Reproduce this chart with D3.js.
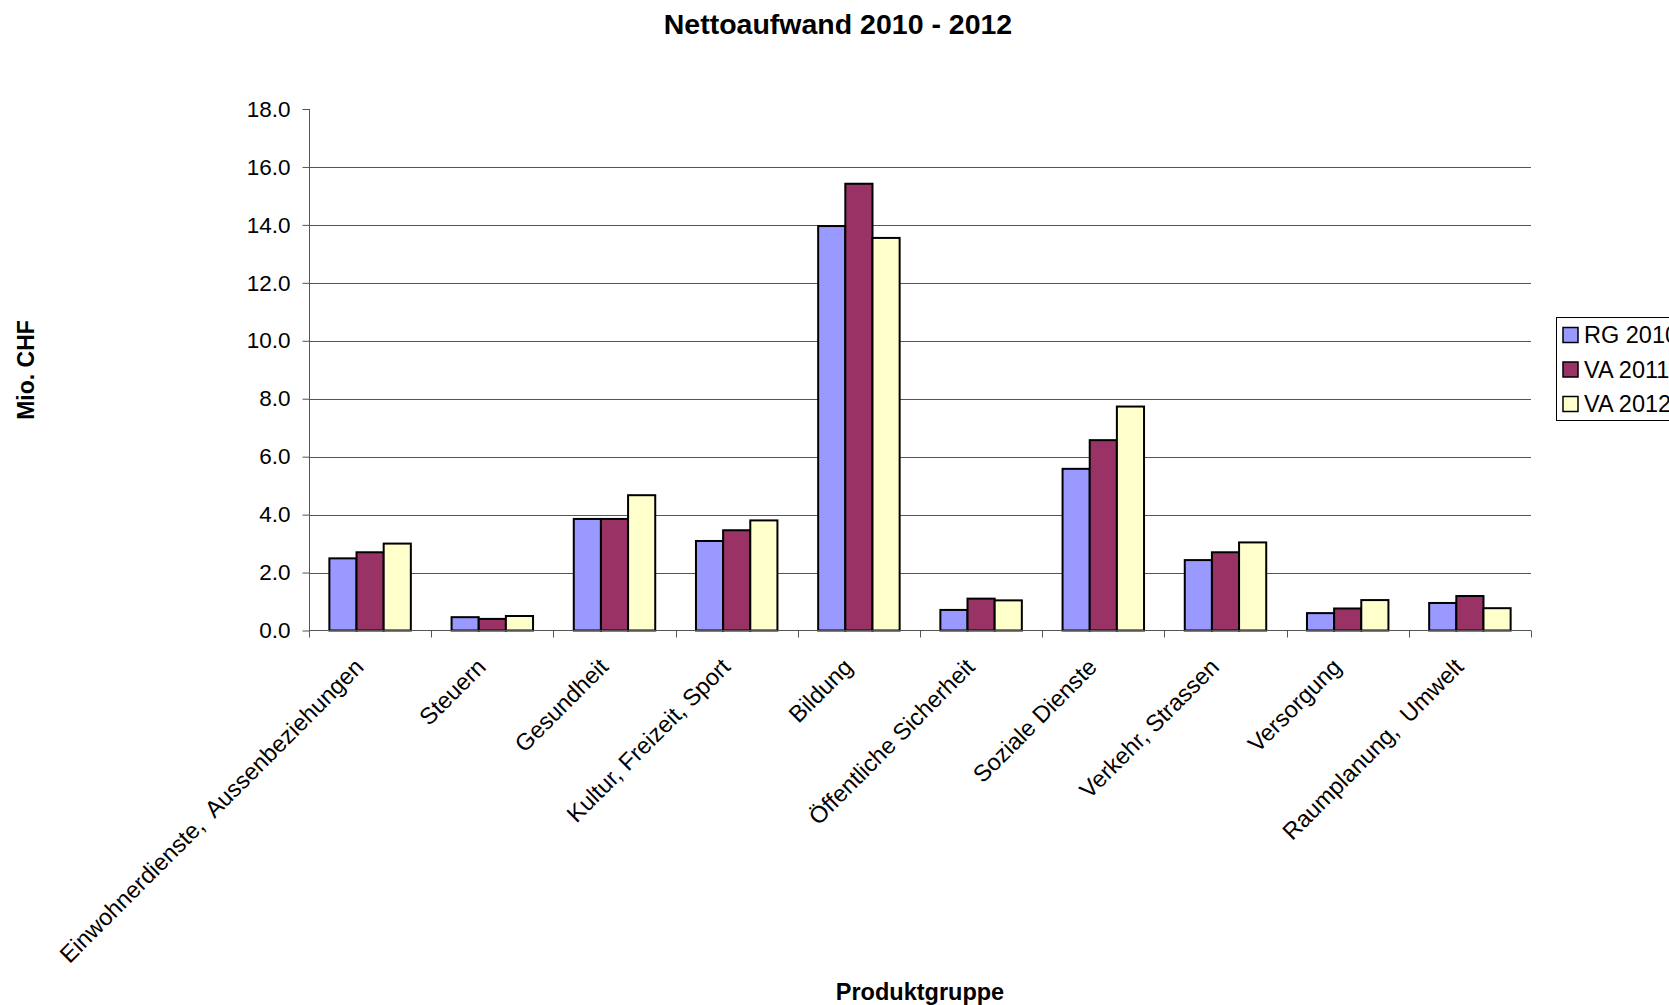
<!DOCTYPE html>
<html>
<head>
<meta charset="utf-8">
<script src="https://cdn.jsdelivr.net/npm/d3@7"></script>
<style>
  body { margin: 0; background: #fff; }
  text { font-family: "Liberation Sans", Arial, sans-serif; }
</style>
</head>
<body>
<div id="chart"></div>
<script>
// Nettoaufwand 2010 - 2012, Mio. CHF per Produktgruppe
var categories = [
  "Einwohnerdienste,  Aussenbeziehungen", "Steuern", "Gesundheit",
  "Kultur, Freizeit, Sport", "Bildung", "Öffentliche Sicherheit",
  "Soziale Dienste", "Verkehr, Strassen", "Versorgung", "Raumplanung,  Umwelt"
];
var seriesNames = ["RG 2010", "VA 2011", "VA 2012"];
var rg2010 = [2.49, 0.46, 3.85, 3.09, 13.96, 0.71, 5.58, 2.43, 0.60, 0.95];
var va2011 = [2.70, 0.40, 3.85, 3.46, 15.42, 1.10, 6.57, 2.70, 0.76, 1.19];
var va2012 = [3.00, 0.50, 4.67, 3.80, 13.55, 1.04, 7.73, 3.04, 1.05, 0.77];
var yTicks = [0, 2, 4, 6, 8, 10, 12, 14, 16, 18];
var colors = ["#9999FF", "#993366", "#FFFFCC"];

var svgWidth = 1669;
var svgHeight = 1005;

var svg = d3.select("#chart")
  .append("svg")
  .attr("width", svgWidth)
  .attr("height", svgHeight);

// plot area
var plotLeft = 309, plotRight = 1531, plotTop = 109, plotBottom = 630.5;

var xScale = d3.scaleBand()
  .domain(categories)
  .range([plotLeft, plotRight])
  .padding(0);

// gap width 150%: bars fill the middle 2/3 of each band
var xInner = d3.scaleBand()
  .domain(seriesNames)
  .range([xScale.bandwidth() / 6, xScale.bandwidth() * 5 / 6])
  .padding(0);

var yScale = d3.scaleLinear()
  .domain([0, 18])
  .range([plotBottom, plotTop]);

// gridlines
svg.append("g")
  .selectAll("line")
  .data(yTicks.filter(d => d > 0 && d < 18))
  .enter()
  .append("line")
  .attr("x1", plotLeft)
  .attr("x2", plotRight)
  .attr("y1", d => Math.round(yScale(d)) + 0.5)
  .attr("y2", d => Math.round(yScale(d)) + 0.5)
  .attr("stroke", "#555")
  .attr("stroke-width", 1);

// y axis
var yAxis = d3.axisLeft(yScale)
  .tickValues(yTicks)
  .tickFormat(d3.format(".1f"))
  .tickSize(7)
  .tickPadding(12);

var yg = svg.append("g")
  .attr("transform", "translate(" + (plotLeft + 0.5) + ",0)")
  .call(yAxis);
yg.select(".domain").attr("stroke", "#555").attr("d", "M0," + plotTop + "V" + plotBottom);
yg.selectAll(".tick line").attr("stroke", "#555");
yg.selectAll(".tick text")
  .attr("fill", "#000")
  .style("font-size", "22.5px")
  .style("font-family", "'Liberation Sans', Arial, sans-serif");

// bars
var series = [rg2010, va2011, va2012];
series.forEach(function(values, si) {
  svg.append("g")
    .selectAll("rect")
    .data(values)
    .enter()
    .append("rect")
    .attr("x", (d, i) => xScale(categories[i]) + xInner(seriesNames[si]))
    .attr("y", d => yScale(d))
    .attr("width", xInner.bandwidth())
    .attr("height", d => yScale(0) - yScale(d))
    .attr("fill", colors[si])
    .attr("stroke", "#000")
    .attr("stroke-width", 2);
});

// x axis line and ticks at the band edges
svg.append("line")
  .attr("x1", plotLeft)
  .attr("x2", plotRight)
  .attr("y1", plotBottom)
  .attr("y2", plotBottom)
  .attr("stroke", "#555")
  .attr("stroke-width", 1.2);

var edges = categories.map(c => xScale(c)).concat([plotRight]);
svg.append("g")
  .selectAll("line")
  .data(edges)
  .enter()
  .append("line")
  .attr("x1", d => Math.round(d) + 0.5)
  .attr("x2", d => Math.round(d) + 0.5)
  .attr("y1", plotBottom)
  .attr("y2", plotBottom + 7)
  .attr("stroke", "#555");

// category labels, rotated
svg.append("g")
  .selectAll("text")
  .data(categories)
  .enter()
  .append("text")
  .attr("xml:space", "preserve")
  .attr("transform", d => "translate(" + (xScale(d) + xScale.bandwidth() / 2 - 5) + "," + (plotBottom + 38) + ") rotate(-45)")
  .attr("text-anchor", "end")
  .style("white-space", "pre")
  .style("font-size", "23.5px")
  .text(d => d);

// titles
svg.append("text")
  .attr("x", 838)
  .attr("y", 24)
  .attr("text-anchor", "middle")
  .attr("dominant-baseline", "central")
  .style("font-size", "28.5px")
  .style("font-weight", "bold")
  .text("Nettoaufwand 2010 - 2012");

svg.append("text")
  .attr("x", 920)
  .attr("y", 992)
  .attr("text-anchor", "middle")
  .attr("dominant-baseline", "central")
  .style("font-size", "23.5px")
  .style("font-weight", "bold")
  .text("Produktgruppe");

svg.append("text")
  .attr("transform", "translate(26,370) rotate(-90)")
  .attr("text-anchor", "middle")
  .attr("dominant-baseline", "central")
  .style("font-size", "23px")
  .style("font-weight", "bold")
  .text("Mio. CHF");

// legend
var legend = svg.append("g");
legend.append("rect")
  .attr("x", 1556.5)
  .attr("y", 317.5)
  .attr("width", 140)
  .attr("height", 103)
  .attr("fill", "#fff")
  .attr("stroke", "#000")
  .attr("stroke-width", 1);

var legendY = d3.scalePoint()
  .domain(seriesNames)
  .range([335, 404]);

var items = legend.selectAll("g.item")
  .data(seriesNames)
  .enter()
  .append("g")
  .attr("class", "item");

items.append("rect")
  .attr("x", 1563)
  .attr("y", d => legendY(d) - 7.5)
  .attr("width", 15)
  .attr("height", 15)
  .attr("fill", (d, i) => colors[i])
  .attr("stroke", "#000")
  .attr("stroke-width", 1.5);

items.append("text")
  .attr("x", 1584)
  .attr("y", d => legendY(d))
  .attr("dominant-baseline", "central")
  .style("font-size", "23.5px")
  .text(d => d);
</script>
</body>
</html>
